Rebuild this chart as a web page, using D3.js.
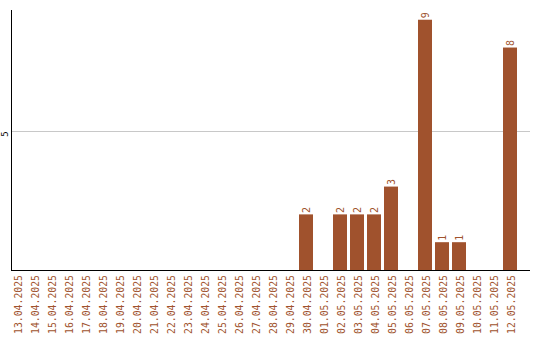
<!DOCTYPE html>
<html>
<head>
<meta charset="utf-8">
<script src="https://cdn.jsdelivr.net/npm/d3@7"></script>
<style>
	body { margin: 0; background: #fff; }
	svg { display: block; }
	text { font-family: "DejaVu Sans Mono", monospace; }
</style>
</head>
<body>
<div id="chart"></div>
<script>
var dates = ["13.04.2025", "14.04.2025", "15.04.2025", "16.04.2025", "17.04.2025",
	"18.04.2025", "19.04.2025", "20.04.2025", "21.04.2025", "22.04.2025",
	"23.04.2025", "24.04.2025", "25.04.2025", "26.04.2025", "27.04.2025",
	"28.04.2025", "29.04.2025", "30.04.2025", "01.05.2025", "02.05.2025",
	"03.05.2025", "04.05.2025", "05.05.2025", "06.05.2025", "07.05.2025",
	"08.05.2025", "09.05.2025", "10.05.2025", "11.05.2025", "12.05.2025"];
var counts = [0, 0, 0, 0, 0, 0, 0, 0, 0, 0,
	0, 0, 0, 0, 0, 0, 0, 2, 0, 2,
	2, 2, 3, 0, 9, 1, 1, 0, 0, 8];
var yTicks = [5];

var width = 540,
	height = 340,
	barColor = "#a0522d",
	plotLeft = 11,
	plotRight = 530,
	plotTop = 10,
	plotBottom = 270;

var svg = d3.select("#chart").append("svg")
	.attr("width", width)
	.attr("height", height);

var x = d3.scaleBand()
	.domain(dates)
	.range([8.5, 518.5])
	.paddingInner(3 / 17)
	.paddingOuter(1.5 / 17);

var y = d3.scaleLinear()
	.domain([0, 9.35])
	.range([plotBottom, plotTop]);

// grid line
svg.selectAll(".grid")
	.data(yTicks)
	.enter().append("line")
	.attr("x1", plotLeft)
	.attr("x2", plotRight)
	.attr("y1", function(d) { return Math.round(y(d)) + 0.5; })
	.attr("y2", function(d) { return Math.round(y(d)) + 0.5; })
	.attr("stroke", "#c8c8c8")
	.attr("stroke-width", 1);

svg.selectAll(".ytick")
	.data(yTicks)
	.enter().append("text")
	.attr("transform", function(d) { return "translate(5," + (y(d) + 3) + ") rotate(-90)"; })
	.attr("text-anchor", "middle")
	.attr("dominant-baseline", "central")
	.style("font-size", "9px")
	.attr("fill", "#000")
	.text(function(d) { return d; });

// bars
var data = dates.map(function(d, i) { return { date: d, value: counts[i] }; });

svg.selectAll(".bar")
	.data(data.filter(function(d) { return d.value > 0; }))
	.enter().append("rect")
	.attr("x", function(d) { return x(d.date); })
	.attr("y", function(d) { return y(d.value); })
	.attr("width", x.bandwidth())
	.attr("height", function(d) { return plotBottom - y(d.value); })
	.attr("fill", barColor);

svg.selectAll(".val")
	.data(data.filter(function(d) { return d.value > 0; }))
	.enter().append("text")
	.attr("transform", function(d) {
		return "translate(" + (x(d.date) + x.bandwidth() / 2) + "," + (y(d.value) - 1.5) + ") rotate(-90)";
	})
	.attr("text-anchor", "start")
	.attr("dominant-baseline", "central")
	.style("font-size", "10px")
	.attr("fill", barColor)
	.text(function(d) { return d.value; });

// axes
svg.append("line")
	.attr("x1", plotLeft + 0.5).attr("x2", plotLeft + 0.5)
	.attr("y1", plotTop).attr("y2", plotBottom)
	.attr("stroke", "#000");

svg.append("line")
	.attr("x1", plotLeft).attr("x2", plotRight)
	.attr("y1", plotBottom + 0.5).attr("y2", plotBottom + 0.5)
	.attr("stroke", "#000");

// date labels
svg.selectAll(".xlab")
	.data(dates)
	.enter().append("text")
	.attr("transform", function(d) {
		return "translate(" + (x(d) + x.bandwidth() / 2 + 1) + "," + (plotBottom + 5) + ") rotate(-90)";
	})
	.attr("text-anchor", "end")
	.attr("dominant-baseline", "central")
	.style("font-size", "9.8px")
	.attr("fill", barColor)
	.text(function(d) { return d; });
</script>
</body>
</html>
